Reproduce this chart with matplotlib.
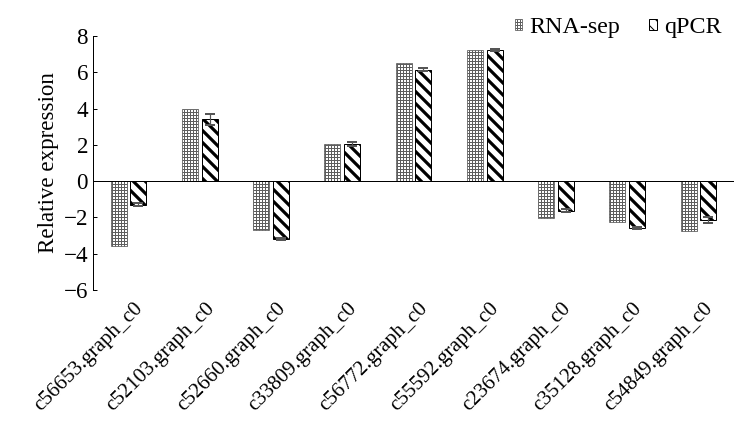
import numpy as np
from matplotlib import pyplot as plt
import matplotlib.transforms as mtransforms

plt.rcParams['font.family'] = ['Liberation Serif', 'DejaVu Serif']

genes = ['c56653.graph_c0', 'c52103.graph_c0', 'c52660.graph_c0',
         'c33809.graph_c0', 'c56772.graph_c0', 'c55592.graph_c0',
         'c23674.graph_c0', 'c35128.graph_c0', 'c54849.graph_c0']
rna_seq = [-3.55, 3.95, -2.7, 2.05, 6.5, 7.25, -2.05, -2.25, -2.75]
qpcr = [-1.3, 3.4, -3.2, 2.05, 6.15, 7.25, -1.62, -2.6, -2.15]
qpcr_err = [0.08, 0.3, 0.06, 0.1, 0.08, 0.06, 0.1, 0.06, 0.15]

dpi = 72
fig = plt.figure(figsize=(734 / dpi, 424 / dpi), dpi=dpi)
ax = fig.add_axes([93 / 734, 1 - 290 / 424, 1 - 93 / 734, 254 / 424])

x = np.arange(len(genes))
w = 0.225
off = 0.138

with plt.rc_context({'hatch.linewidth': 1.0}):
    b1 = ax.bar(x - off, rna_seq, w, facecolor='white', edgecolor='#5e5e5e',
                hatch='++++', linewidth=0.8, label='RNA-sep')
with plt.rc_context({'hatch.linewidth': 3.2}):
    b2 = ax.bar(x + off, qpcr, w, facecolor='white', edgecolor='black',
                hatch='\\\\', linewidth=1.0, label='qPCR')
for p in b1:
    if hasattr(p, 'set_hatch_linewidth'):
        p.set_hatch_linewidth(1.0)
for p in b2:
    if hasattr(p, 'set_hatch_linewidth'):
        p.set_hatch_linewidth(3.2)

ax.errorbar(x + off, qpcr, yerr=qpcr_err, fmt='none', ecolor='#555555',
            elinewidth=1.2, capsize=5, capthick=2)

ax.axhline(0, color='black', linewidth=1.0)
ax.set_xlim(-0.5, len(genes) - 0.5)
ax.set_ylim(-6, 8)
ax.set_yticks(range(-6, 9, 2))
ax.set_yticklabels(['\u22126', '\u22124', '\u22122', '0', '2', '4', '6', '8'])
ax.tick_params(axis='y', direction='in', length=4, width=1, labelsize=23, pad=5)
ax.tick_params(axis='x', length=0, labelsize=21, pad=0)
for s in ['top', 'right', 'bottom']:
    ax.spines[s].set_visible(False)
ax.spines['left'].set_linewidth(1.0)

ax.set_xticks(x)
ax.set_xticklabels(genes, rotation=45, ha='right', va='top', rotation_mode='anchor')
shift = mtransforms.ScaledTranslation(5 / dpi, -9 / dpi, fig.dpi_scale_trans)
for lab in ax.get_xticklabels():
    lab.set_transform(lab.get_transform() + shift)

ax.set_ylabel('Relative expression', fontsize=23, labelpad=4)

fig.legend(loc='upper right', bbox_to_anchor=(1.012, 1.01), ncol=2,
           frameon=False, fontsize=24, handlelength=0.3, handleheight=0.3,
           handletextpad=0.3, columnspacing=1.2)

fig.savefig('out.png', dpi=dpi)
